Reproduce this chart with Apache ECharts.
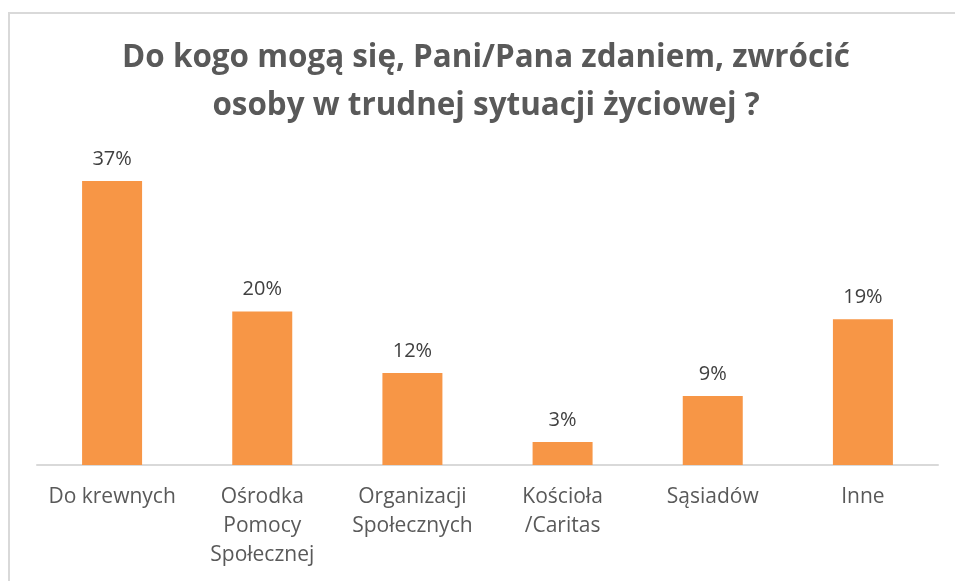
<!DOCTYPE html>
<html>
<head>
<meta charset="utf-8">
<script src="https://cdn.jsdelivr.net/npm/echarts@6/dist/echarts.min.js"></script>
<style>
  html, body { margin: 0; padding: 0; background: #fff; }
  #frame { position: absolute; left: 8px; top: 12px; width: 960px; height: 600px; border: 2px solid #d9d9d9; box-sizing: border-box; }
  #chart { position: absolute; left: 0; top: 0; width: 955px; height: 581px; }
</style>
</head>
<body>
<div id="frame"></div>
<div id="chart"></div>
<script>
// kategorie i wartosci (%)
var categories = ['Do krewnych', 'Ośrodka\nPomocy\nSpołecznej', 'Organizacji\nSpołecznych', 'Kościoła\n/Caritas', 'Sąsiadów', 'Inne'];
var values = [37, 20, 12, 3, 9, 19];
var titleText = 'Do kogo mogą się, Pani/Pana zdaniem, zwrócić\nosoby w trudnej sytuacji życiowej ?';

var myChart = echarts.init(document.getElementById('chart'));
var option = {
    animation: false,
    textStyle: { fontFamily: 'Open Sans' },
    title: {
        text: titleText,
        left: 481,
        top: 29,
        textAlign: 'center',
        textStyle: {
            fontFamily: 'Open Sans',
            fontSize: 31.4,
            fontWeight: 'bold',
            color: '#595959',
            lineHeight: 48
        }
    },
    grid: {
        left: 37,
        right: 17,
        top: 158,
        height: 307
    },
    xAxis: {
        type: 'category',
        data: categories,
        axisTick: { show: false },
        axisLine: { lineStyle: { color: '#d9d9d9', width: 2 } },
        axisLabel: {
            interval: 0,
            color: '#595959',
            fontSize: 21,
            lineHeight: 29,
            margin: 18
        }
    },
    yAxis: {
        type: 'value',
        min: 0,
        max: 40,
        show: false,
        splitLine: { show: false }
    },
    series: [{
        type: 'bar',
        data: values,
        barWidth: 60,
        itemStyle: { color: '#F79646' },
        label: {
            show: true,
            position: 'top',
            distance: 12,
            formatter: '{c}%',
            color: '#404040',
            fontSize: 20
        }
    }]
};
myChart.setOption(option);
</script>
</body>
</html>
